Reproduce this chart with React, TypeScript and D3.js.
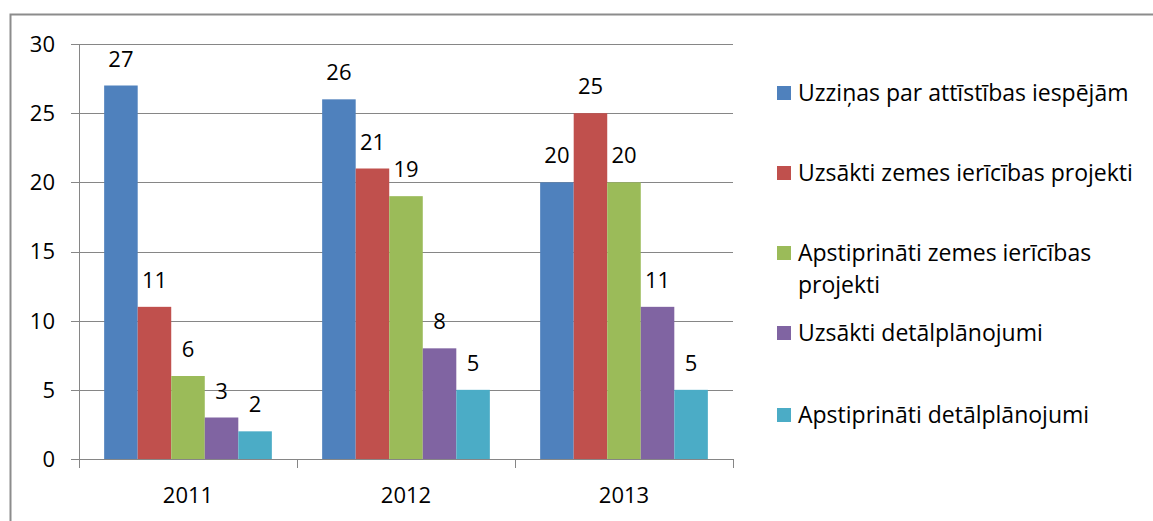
import React, { useEffect, useRef } from 'react'
import * as d3 from 'd3'

const years = ['2011', '2012', '2013']
const seriesNames = [
  'Uzziņas par attīstības iespējām',
  'Uzsākti zemes ierīcības projekti',
  'Apstiprināti zemes ierīcības projekti',
  'Uzsākti detālplānojumi',
  'Apstiprināti detālplānojumi',
]
const uzzinas = [27, 26, 20]
const uzsaktiProjekti = [11, 21, 25]
const apstiprinatiProjekti = [6, 19, 20]
const uzsaktiDetal = [3, 8, 11]
const apstiprinatiDetal = [2, 5, 5]
const yTicks = [0, 5, 10, 15, 20, 25, 30]
const colors = ['#4F81BD', '#C0504D', '#9BBB59', '#8064A2', '#4BACC6']

const FONT = '"Open Sans", sans-serif'

export default function App() {
  const ref = useRef<SVGSVGElement>(null)

  useEffect(() => {
    const svg = d3.select(ref.current)
    svg.selectAll('*').remove()

    const series = [uzzinas, uzsaktiProjekti, apstiprinatiProjekti, uzsaktiDetal, apstiprinatiDetal]
    const margin = { left: 79, top: 44, right: 733, bottom: 459 }

    // outer frame
    svg.append('rect')
      .attr('x', 10.5).attr('y', 14.5)
      .attr('width', 1160).attr('height', 540)
      .attr('fill', 'white')
      .attr('stroke', '#8c8c8c')
      .attr('stroke-width', 2)

    const x0 = d3.scaleBand().domain(years).range([margin.left, margin.right])
    // excel style gap width 150% -> 0.75 bar width on each side
    const x1 = d3.scaleBand()
      .domain(d3.range(series.length).map(String))
      .range([0, x0.bandwidth()])
      .paddingInner(0)
      .paddingOuter(0.75)
    const y = d3.scaleLinear().domain([0, 30]).range([margin.bottom, margin.top])

    // gridlines
    svg.append('g').selectAll('line')
      .data(yTicks)
      .enter().append('line')
      .attr('x1', margin.left - 8).attr('x2', margin.right)
      .attr('y1', d => Math.round(y(d)) + 0.5).attr('y2', d => Math.round(y(d)) + 0.5)
      .style('stroke', '#868686')
      .style('stroke-width', 1)

    // y axis line
    svg.append('line')
      .attr('x1', margin.left + 0.5).attr('x2', margin.left + 0.5)
      .attr('y1', margin.top).attr('y2', margin.bottom + 9)
      .style('stroke', '#868686')

    // category ticks
    const bounds = years.map(d => x0(d)!).concat([margin.right])
    svg.append('g').selectAll('line')
      .data(bounds)
      .enter().append('line')
      .attr('x1', d => Math.round(d) + 0.5).attr('x2', d => Math.round(d) + 0.5)
      .attr('y1', margin.bottom).attr('y2', margin.bottom + 9)
      .style('stroke', '#868686')

    // y labels
    svg.append('g').selectAll('text')
      .data(yTicks)
      .enter().append('text')
      .attr('x', 55)
      .attr('y', d => y(d))
      .attr('dy', '0.36em')
      .attr('text-anchor', 'end')
      .style('font-family', FONT)
      .style('font-size', '22px')
      .style('fill', '#000')
      .text(d => d)

    // x labels
    svg.append('g').selectAll('text')
      .data(years)
      .enter().append('text')
      .attr('x', d => x0(d)! + x0.bandwidth() / 2)
      .attr('y', 503)
      .attr('text-anchor', 'middle')
      .style('font-family', FONT)
      .style('font-size', '22px')
      .style('fill', '#000')
      .text(d => d)

    // bars
    series.forEach((vals, si) => {
      const g = svg.append('g')
      g.selectAll('rect')
        .data(vals)
        .enter().append('rect')
        .attr('x', (d, i) => x0(years[i])! + x1(String(si))!)
        .attr('width', x1.bandwidth())
        .attr('y', d => y(d))
        .attr('height', d => y(0) - y(d))
        .style('fill', colors[si])

      g.selectAll('text')
        .data(vals)
        .enter().append('text')
        .attr('x', (d, i) => x0(years[i])! + x1(String(si))! + x1.bandwidth() / 2)
        .attr('y', d => y(d) - 19)
        .attr('text-anchor', 'middle')
        .style('font-family', FONT)
        .style('font-size', '22px')
        .style('fill', '#000')
        .text(d => d)
    })

    // legend
    const legendY = [93, 173, 253, 333, 415]
    const legend = svg.append('g')
    seriesNames.forEach((name, i) => {
      legend.append('rect')
        .attr('x', 777).attr('y', legendY[i] - 7)
        .attr('width', 14).attr('height', 14)
        .style('fill', colors[i])
      const t = legend.append('text')
        .attr('x', 798)
        .attr('y', legendY[i])
        .attr('dy', '0.36em')
        .style('font-family', FONT)
        .style('font-size', '23px')
        .style('fill', '#000')
      if (i === 2) {
        t.append('tspan').attr('x', 798).text('Apstiprināti zemes ierīcības')
        t.append('tspan').attr('x', 798).attr('dy', 32).text('projekti')
      } else {
        t.text(name)
      }
    })
  }, [])

  return (
    <div style={{ position: 'fixed', left: 0, top: 0 }}>
      <svg ref={ref} width={1153} height={521} style={{ display: 'block', background: 'white' }} />
    </div>
  )
}
